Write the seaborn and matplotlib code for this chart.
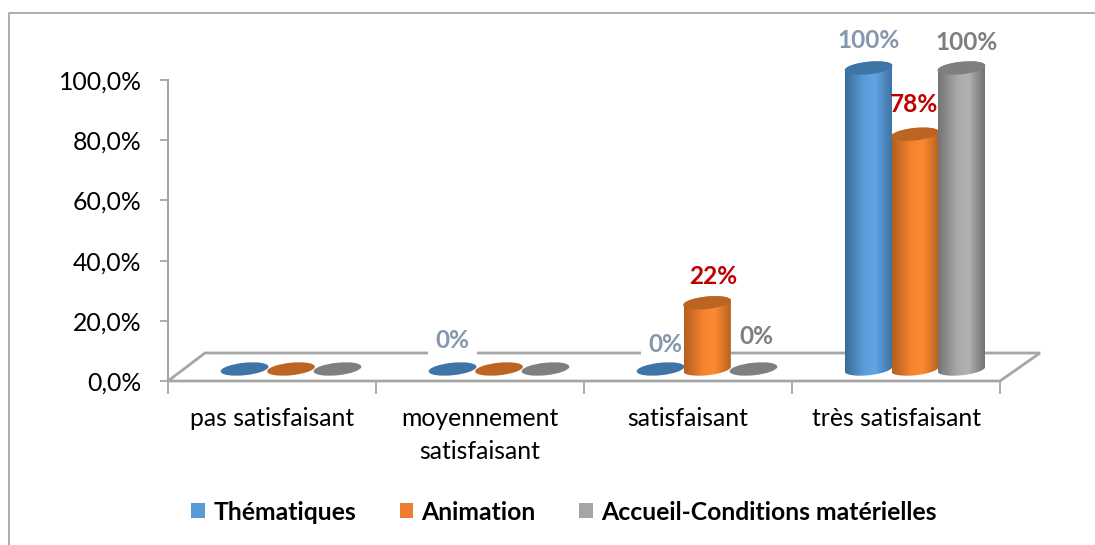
import numpy as np
import pandas as pd
import matplotlib
matplotlib.use('Agg')
import matplotlib.pyplot as plt
import seaborn as sns
from matplotlib.patches import Ellipse, Polygon
from matplotlib.path import Path
from matplotlib.colors import LinearSegmentedColormap
from matplotlib.lines import Line2D
from matplotlib.transforms import Affine2D, IdentityTransform

categories = ['pas satisfaisant', 'moyennement\nsatisfaisant', 'satisfaisant', 'très satisfaisant']
series_names = ['Thématiques', 'Animation', 'Accueil-Conditions matérielles']
thematiques = [0, 0, 0, 100]
animation = [0, 0, 22, 78]
accueil = [0, 0, 0, 100]

# labels shown on the chart: (series, category) -> text
shown_labels = {(0, 1): '0%', (0, 2): '0%', (1, 2): '22%', (2, 2): '0%',
                (0, 3): '100%', (1, 3): '78%', (2, 3): '100%'}
label_offsets = {(0, 1): (0, 28), (0, 2): (5, 25), (1, 2): (6, 26), (2, 2): (3, 32),
                 (0, 3): (0, 27), (1, 3): (-1, 30), (2, 3): (5, 25)}
# these two labels sit on a white box that cuts the floor line
boxed_labels = [(0, 1), (0, 2)]

colors = ['#5B9BD5', '#ED7D31', '#A5A5A5']
cap_colors = ['#3F75A6', '#BC6421', '#7F7F7F']
side_colors = [('#3A6C99', '#5B9DD9', '#60A5E4', '#3F74A6'),
               ('#B45F1E', '#F5822F', '#FF8A33', '#B7641F'),
               ('#757575', '#A8A8A8', '#B2B2B2', '#727272')]
label_colors = ['#8497B0', '#C00000', '#7F7F7F']
line_gray = '#A6A6A6'

plt.rcParams['font.family'] = ['Lato', 'DejaVu Sans']

df = pd.DataFrame({
    'categorie': categories * 3,
    'valeur': thematiques + animation + accueil,
    'serie': np.repeat(series_names, len(categories)),
})

fig = plt.figure(figsize=(10.95, 5.45), dpi=100)
ax = fig.add_axes([168 / 1095, 1 - 381 / 545, (1000 - 168) / 1095, (381 - 80) / 545])
ax.patch.set_alpha(0)

sns.barplot(data=df, x='categorie', y='valeur', hue='serie', palette=colors, width=0.67,
            saturation=1, linewidth=0, ax=ax)
ax.set_xlim(-0.5, 3.5)
ax.set_ylim(0, 100)
ax.autoscale(False)
ax.set_xlabel('')
ax.set_ylabel('')

# pixel coordinates, top-left origin
px = Affine2D().scale(1, -1).translate(0, 545)

# chart frame and floor
fig.add_artist(Line2D([9, 9, 1095], [545, 13, 13], transform=px, color='#A0A0A0', lw=1.2))
ax.add_patch(Polygon([(168, 381), (205, 353), (1040, 353), (1000, 381)], closed=True, transform=px,
                     facecolor='white', edgecolor=line_gray, lw=2, clip_on=False, zorder=1))

ax.set_yticks(range(0, 101, 20))
ax.set_yticklabels([f'{v},0%' for v in range(0, 101, 20)])
ax.set_xticks(range(4))
ax.set_xticklabels(categories, linespacing=1.5)
ax.set_xticks(np.arange(-0.5, 4), minor=True)
ax.tick_params(axis='x', which='major', length=0, pad=19, labelsize=17.8, colors='black')
ax.tick_params(axis='x', which='minor', length=9, width=1.3, color=line_gray)
ax.tick_params(axis='y', length=6, width=1.3, color=line_gray, pad=13, labelsize=17.8)
sns.despine(ax=ax, top=True, right=True, bottom=True)
ax.spines['left'].set_color(line_gray)
ax.spines['left'].set_linewidth(1.5)

# cylinders sit on the floor: shift bars back and right
dx = 19 / 208
base = 12 / 3.01
cap_w, cap_h, tilt = 48, 12.5, 6

def ellipse_points(cx, cy, t):
    a, b = cap_w / 2, cap_h / 2
    r = np.radians(tilt)
    x = a * np.cos(t) * np.cos(r) - b * np.sin(t) * np.sin(r)
    y = a * np.cos(t) * np.sin(r) + b * np.sin(t) * np.cos(r)
    return np.column_stack([cx + x, cy + y])

for s, container in enumerate(ax.containers):
    cmap = LinearSegmentedColormap.from_list('side', list(zip([0, 0.4, 0.65, 1], side_colors[s])))
    for c, bar in enumerate(container):
        value = bar.get_height()
        bar.set_x(bar.get_x() + dx)
        bar.set_y(base)
        bar.set_clip_on(False)
        bar.set_zorder(2 + s)
        xc = bar.get_x() + bar.get_width() / 2
        cx, cy_base = ax.transData.transform((xc, base))
        cy_top = cy_base + value * 3.01
        if value > 0:
            grad = np.linspace(0, 1, 64)[None, :]
            im = ax.imshow(grad, cmap=cmap, aspect='auto', zorder=2 + s,
                           extent=(bar.get_x(), bar.get_x() + bar.get_width(), base - 3, base + value + 3))
            top = ellipse_points(cx, cy_top, np.linspace(0, np.pi, 30))
            bottom = ellipse_points(cx, cy_base, np.linspace(np.pi, 2 * np.pi, 30))
            outline = np.vstack([bottom, top])
            im.set_clip_box(fig.bbox)
            im.set_clip_path(Path(np.vstack([outline, outline[:1]]), closed=True), IdentityTransform())
            bar.set_visible(False)
        ax.add_patch(Ellipse((cx, cy_top), cap_w, cap_h, angle=tilt, transform=IdentityTransform(),
                             facecolor=cap_colors[s], edgecolor='none', clip_on=False, zorder=2 + s))
        if (s, c) in shown_labels:
            ox, oy = label_offsets[(s, c)]
            boxed = (s, c) in boxed_labels
            ax.annotate(shown_labels[(s, c)], xy=(xc, base + value), xytext=(ox, oy), textcoords='offset pixels',
                        ha='center', va='center', fontsize=17.6, fontweight='bold', color=label_colors[s],
                        annotation_clip=False, zorder=1.5 if boxed else 10,
                        bbox=dict(boxstyle='square,pad=0.3', fc='white', ec='none') if boxed else None)

sns.move_legend(ax, 'center', bbox_to_anchor=(564 / 1095, 1 - 512 / 545), bbox_transform=fig.transFigure,
                ncol=3, frameon=False, title=None, prop={'size': 17.85, 'weight': 'bold'},
                handlelength=0.56, handleheight=0.56, handletextpad=0.32, columnspacing=1.76)

fig.savefig('out.png', dpi=100)
